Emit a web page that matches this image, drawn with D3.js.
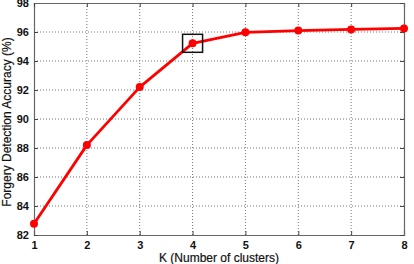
<!DOCTYPE html>
<html>
<head>
<meta charset="utf-8">
<script src="https://cdn.jsdelivr.net/npm/d3@7"></script>
<style>
  body { margin: 0; background: #fff; }
  svg { display: block; }
  text { font-family: "Liberation Sans", Arial, sans-serif; }
</style>
</head>
<body>
<svg id="canvas"></svg>
<script>
const kValues = [1, 2, 3, 4, 5, 6, 7, 8];
const accuracy = [82.78, 88.2, 92.2, 95.22, 95.98, 96.1, 96.18, 96.25];
const yTicks = [82, 84, 86, 88, 90, 92, 94, 96, 98];
const highlightK = 4;

const width = 414;
const height = 264;
const margin = { top: 3, right: 10, bottom: 29, left: 34 };

const svg = d3.select("#canvas").attr("width", width).attr("height", height);

const x = d3.scaleLinear().domain([1, 8]).range([margin.left, width - margin.right]);
const y = d3.scaleLinear().domain([82, 98]).range([height - margin.bottom, margin.top]);

const gridColor = "#777";

// grid
svg.append("g")
  .selectAll("line")
  .data(kValues.slice(1, -1))
  .join("line")
  .attr("x1", d => x(d)).attr("x2", d => x(d))
  .attr("y1", y(98)).attr("y2", y(82))
  .attr("stroke", gridColor).attr("stroke-width", 1)
  .attr("stroke-dasharray", "1,2");

svg.append("g")
  .selectAll("line")
  .data(yTicks.slice(1, -1))
  .join("line")
  .attr("x1", x(1)).attr("x2", x(8))
  .attr("y1", d => y(d)).attr("y2", d => y(d))
  .attr("stroke", gridColor).attr("stroke-width", 1)
  .attr("stroke-dasharray", "1,2");

// axes
svg.append("g")
  .attr("transform", `translate(0,${y(82)})`)
  .call(d3.axisBottom(x).tickValues(kValues).tickSize(-4).tickPadding(6).tickFormat(d3.format("d")));
svg.append("g")
  .attr("transform", `translate(${x(1)},0)`)
  .call(d3.axisLeft(y).tickValues(yTicks).tickSize(-4).tickPadding(5).tickFormat(d3.format("d")));
svg.append("g")
  .attr("transform", `translate(0,${y(98)})`)
  .call(d3.axisTop(x).tickValues(kValues).tickSize(-4).tickFormat(""));
svg.append("g")
  .attr("transform", `translate(${x(8)},0)`)
  .call(d3.axisRight(y).tickValues(yTicks).tickSize(-4).tickFormat(""));

svg.selectAll(".domain").attr("stroke", "#666").attr("stroke-width", 1.2);
svg.selectAll(".tick line").attr("stroke", "#444");
svg.selectAll(".tick text")
  .attr("fill", "#111")
  .style("font-size", "11px")
  .style("font-weight", "bold");

// line
const line = d3.line()
  .x((d, i) => x(kValues[i]))
  .y(d => y(d));

svg.append("path")
  .datum(accuracy)
  .attr("d", line)
  .attr("fill", "none")
  .attr("stroke", "#ff0000")
  .attr("stroke-width", 2.8)
  .attr("stroke-linejoin", "round");

svg.append("g")
  .selectAll("circle")
  .data(accuracy)
  .join("circle")
  .attr("cx", (d, i) => x(kValues[i]))
  .attr("cy", d => y(d))
  .attr("r", 4)
  .attr("fill", "#ff0000");

// highlight box
const hi = kValues.indexOf(highlightK);
svg.append("rect")
  .attr("x", x(highlightK) - 10)
  .attr("y", y(accuracy[hi]) - 9)
  .attr("width", 20)
  .attr("height", 18)
  .attr("fill", "none")
  .attr("stroke", "#111")
  .attr("stroke-width", 1.5);

// labels
svg.append("text")
  .attr("x", (x(1) + x(8)) / 2)
  .attr("y", 262)
  .attr("text-anchor", "middle")
  .style("font-size", "12px")
  .attr("fill", "#111")
  .attr("stroke", "#111").attr("stroke-width", 0.2)
  .text("K (Number of clusters)");

svg.append("text")
  .attr("transform", `translate(11,${(y(82) + y(98)) / 2 + 3}) rotate(-90)`)
  .attr("text-anchor", "middle")
  .style("font-size", "12px")
  .attr("fill", "#111")
  .attr("stroke", "#111").attr("stroke-width", 0.2)
  .text("Forgery Detection Accuracy (%)");
</script>
</body>
</html>
